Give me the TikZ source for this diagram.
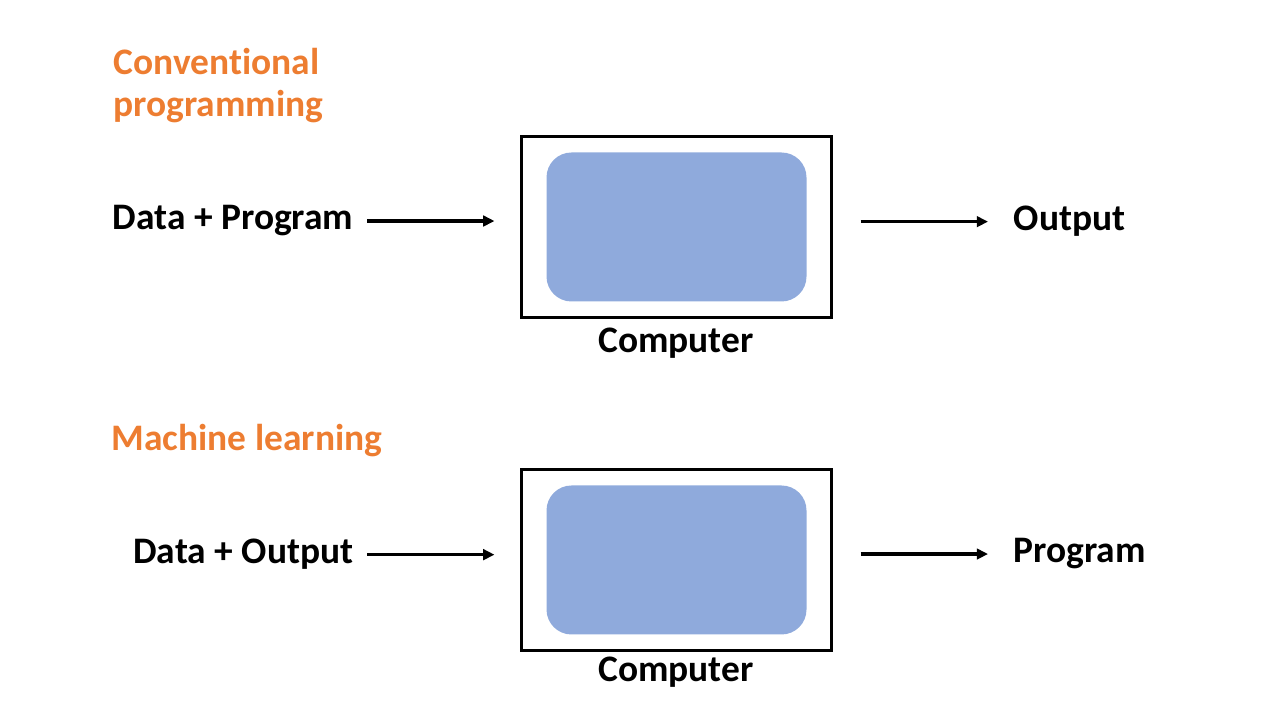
\documentclass[tikz,border=0pt]{standalone}
\usepackage{fontspec}
\setmainfont[Ligatures=NoCommon]{Carlito}
\usepackage{xcolor}
\usepackage{tikz}
\usetikzlibrary{arrows.meta, positioning}
\definecolor{mlorange}{RGB}{237, 125, 49}
\definecolor{mlblue}{RGB}{143, 170, 220}

\tikzset{
  label/.style={inner sep=0pt, font=\fontsize{10.65}{12}\selectfont\bfseries},
  title/.style={label, text=mlorange, align=left},
  cpubox/.style={draw, line width=0.6pt, minimum width=3.1cm, minimum height=1.81cm},
  core/.style={fill=mlblue, rounded corners=0.25cm, minimum width=2.6cm, minimum height=1.49cm},
  flow/.style={line width=0.95pt, -{Triangle[length=3.2pt,width=3pt]}}
}

\begin{document}
\begin{tikzpicture}
\useasboundingbox (0,0) rectangle (12.8,7.2);

% Conventional programming
\node[title, anchor=base west] (t1) at (1.13,6.03) {Conventional\\programming};
\node[cpubox] (cpu1) at (6.765,4.93) {};
\node[core] (core1) at (cpu1.center) {};
\node[label, anchor=base] (c1) at (6.76,3.67) {Computer};
\node[label, anchor=base east] (in1) at (3.54,4.90) {Data + Program};
\node[label, anchor=base west] (out1) at (10.13,4.89) {Output};

\draw[flow, shorten <=0.13cm, shorten >=0.26cm] (in1.east) -- (in1.east -| cpu1.west);
\draw[flow, shorten <=0.28cm, shorten >=0.25cm] (out1.west -| cpu1.east) -- (out1.west);

% Machine learning
\node[title, anchor=base west] (t2) at (1.11,2.69) {Machine learning};
\node[cpubox] (cpu2) at (6.765,1.60) {};
\node[core] (core2) at (cpu2.center) {};
\node[label, anchor=base] (c2) at (6.76,0.38) {Computer};
\node[label, anchor=base east] (in2) at (3.54,1.56) {Data + Output};
\node[label, anchor=base west] (out2) at (10.13,1.57) {Program};

\draw[flow, shorten <=0.13cm, shorten >=0.26cm] (in2.east) -- (in2.east -| cpu2.west);
\draw[flow, shorten <=0.28cm, shorten >=0.25cm] (out2.west -| cpu2.east) -- (out2.west);
\end{tikzpicture}
\end{document}
